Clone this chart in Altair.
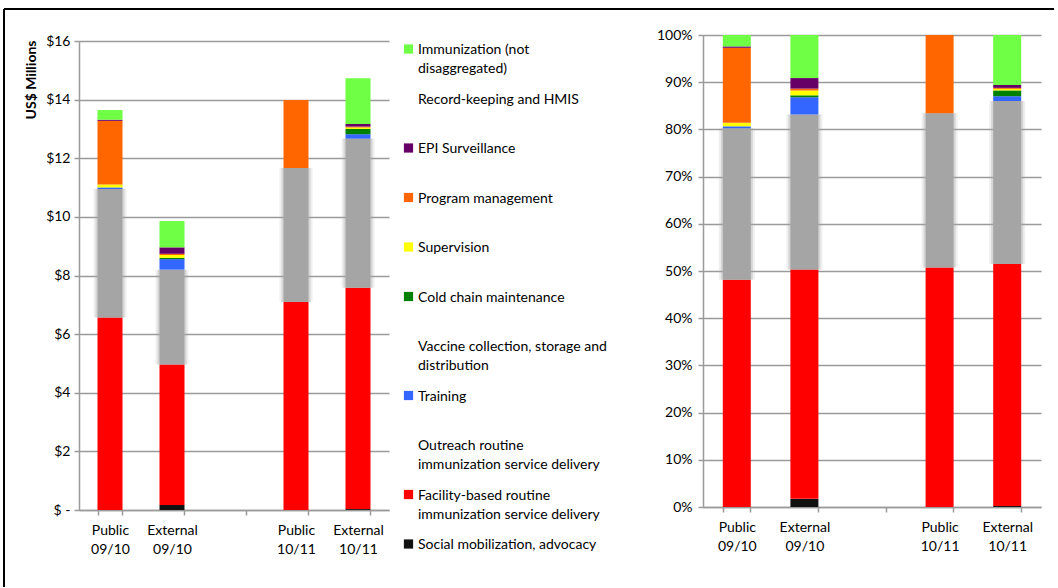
import altair as alt
import pandas as pd

# Bar groups (a blank spacer band separates the two fiscal years)
categories = ["Public 09/10", "External 09/10", "Public 10/11", "External 10/11"]
x_domain = ["Public 09/10", "External 09/10", " ", "Public 10/11", "External 10/11"]

# Cost categories, listed from the bottom of each stack to the top
series = [
    "Social mobilization, advocacy",
    "Facility-based routine immunization service delivery",
    "Outreach routine immunization service delivery",
    "Training",
    "Vaccine collection, storage and distribution",
    "Cold chain maintenance",
    "Supervision",
    "Program management",
    "EPI Surveillance",
    "Record-keeping and HMIS",
    "Immunization (not disaggregated)",
]
legend_text = [
    "Social mobilization, advocacy",
    "Facility-based routine\nimmunization service delivery",
    "Outreach routine\nimmunization service delivery",
    "Training",
    "Vaccine collection, storage and\ndistribution",
    "Cold chain maintenance",
    "Supervision",
    "Program management",
    "EPI Surveillance",
    "Record-keeping and HMIS",
    "Immunization (not\ndisaggregated)",
]
colors = ["#111111", "#FF0000", "#A5A5A5", "#3366FF", "#FFFFFF", "#008000",
          "#FFFF00", "#FF6600", "#660066", "#FFFFFF", "#6FFF44"]
has_swatch = [True, True, False, True, False, True, True, True, True, False, True]

# US$ millions per group, same order as `categories`
social = [0.00, 0.17, 0.00, 0.03]
facility = [6.57, 4.79, 7.10, 7.55]
outreach = [4.38, 3.24, 4.57, 5.09]
training = [0.055, 0.36, 0.00, 0.15]
vaccine = [0.00, 0.00, 0.00, 0.00]
cold_chain = [0.00, 0.04, 0.00, 0.18]
supervision = [0.10, 0.10, 0.00, 0.05]
program = [2.17, 0.04, 2.32, 0.03]
epi = [0.04, 0.22, 0.00, 0.09]
record = [0.00, 0.00, 0.00, 0.00]
immunization = [0.33, 0.90, 0.00, 1.56]

series_values = [social, facility, outreach, training, vaccine, cold_chain,
                 supervision, program, epi, record, immunization]

rows = []
for i, (name, vals) in enumerate(zip(series, series_values)):
    for cat, v in zip(categories, vals):
        rows.append({"cat": cat, "series": name, "order": i, "value": v})
df = pd.DataFrame(rows)

FONT = "Lato"
GRID = "#9a9a9a"
color_scale = alt.Scale(domain=series, range=colors)
label_split = "split(datum.label, ' ')"


def stacked(normalize, width_px, band_size, y_scale, y_axis):
    base = alt.Chart(df).transform_stack(
        stack="value",
        groupby=["cat"],
        as_=["v0", "v1"],
        sort=[alt.SortField("order", "ascending")],
        offset="normalize" if normalize else "zero",
    ).transform_filter("datum.value > 0")

    x = alt.X(
        "cat:N",
        scale=alt.Scale(domain=x_domain, paddingInner=0.6, paddingOuter=0.3),
        axis=alt.Axis(
            title=None, labelAngle=0, labelExpr=label_split, tickBand="extent",
            labelLineHeight=19, labelPadding=8, tickSize=5, tickColor=GRID,
            domainColor=GRID, domainWidth=1.5, tickWidth=1.5, grid=False,
            labelBaseline="top",
        ),
    )
    y = alt.Y("v0:Q", scale=y_scale, axis=y_axis)
    enc = dict(x=x, y=y, y2="v1:Q",
               color=alt.Color("series:N", scale=color_scale, legend=None))

    gray = base.transform_filter(
        alt.datum.series == "Outreach routine immunization service delivery")
    halo_outer = gray.mark_bar(size=band_size + 8, opacity=0.18).encode(**enc)
    halo_inner = gray.mark_bar(size=band_size + 4, opacity=0.35).encode(**enc)
    bars = base.mark_bar(size=band_size).encode(**enc)
    return halo_outer, halo_inner, bars


# Left panel: absolute spending
left_axis = alt.Axis(
    values=list(range(0, 17, 2)),
    labelExpr="datum.value == 0 ? '$ -' : '$' + datum.value",
    title="US$ Millions", titleFont=FONT, titleFontSize=14, titleFontWeight="bold",
    titleAngle=-90, titleX=-41, titleY=5, titleAlign="right", titleBaseline="bottom",
    gridColor=GRID, gridWidth=1.5, domainColor=GRID, domainWidth=1.5,
    tickColor=GRID, tickWidth=1.5, tickSize=5, labelPadding=4,
)
lh1, lh2, lbars = stacked(False, 310, 25,
                          alt.Scale(domain=[0, 16], range=[475, 6], nice=False),
                          left_axis)

frame_src = alt.Chart(pd.DataFrame({"k": [0]}))
frame_top = frame_src.mark_rule(color="black", strokeWidth=2).encode(
    x=alt.value(-75), x2=alt.value(975), y=alt.value(-26))
frame_left = frame_src.mark_rule(color="black", strokeWidth=2).encode(
    x=alt.value(-75), y=alt.value(-26), y2=alt.value(552))

left = alt.layer(lh1, lh2, lbars, frame_top, frame_left).properties(width=310, height=475)

# Right panel: shares of the total
right_axis = alt.Axis(
    values=[i / 10 for i in range(11)], format=".0%", title=None,
    gridColor=GRID, gridWidth=1.5, domainColor=GRID, domainWidth=1.5,
    tickColor=GRID, tickWidth=1.5, tickSize=5, labelPadding=6,
)
rh1, rh2, rbars = stacked(True, 338, 28,
                          alt.Scale(domain=[0, 1], nice=False), right_axis)
right = alt.layer(rh1, rh2, rbars).properties(width=338, height=472)

# Legend listed top-down (reverse of the stacking order)
leg = pd.DataFrame({
    "series": series[::-1],
    "label": legend_text[::-1],
    "swatch": has_swatch[::-1],
})
leg_y = alt.Y("series:N", axis=None,
              scale=alt.Scale(type="point", domain=series[::-1], range=[14, 509], padding=0))
swatches = alt.Chart(leg).transform_filter("datum.swatch").mark_square(
    size=85, opacity=1).encode(
    x=alt.value(9.5), y=leg_y,
    color=alt.Color("series:N", scale=color_scale, legend=None))
texts = alt.Chart(leg).mark_text(
    align="left", baseline="line-top", lineBreak="\n", dy=-9,
    font=FONT, fontSize=14, lineHeight=19, color="black").encode(
    x=alt.value(19), y=leg_y, text="label:N")
legend = alt.layer(swatches, texts).properties(width=294, height=520)

chart = alt.hconcat(left, legend, right, spacing=10, bounds="flush").properties(
    padding={"left": 3, "top": 8, "right": 0, "bottom": 0},
    background="white",
).resolve_scale(y="independent", x="independent").configure_view(
    strokeWidth=0
).configure_axis(
    labelFont=FONT, labelFontSize=14, labelColor="black",
)

chart.save("out.html", embed_options={"renderer": "svg", "actions": False})
